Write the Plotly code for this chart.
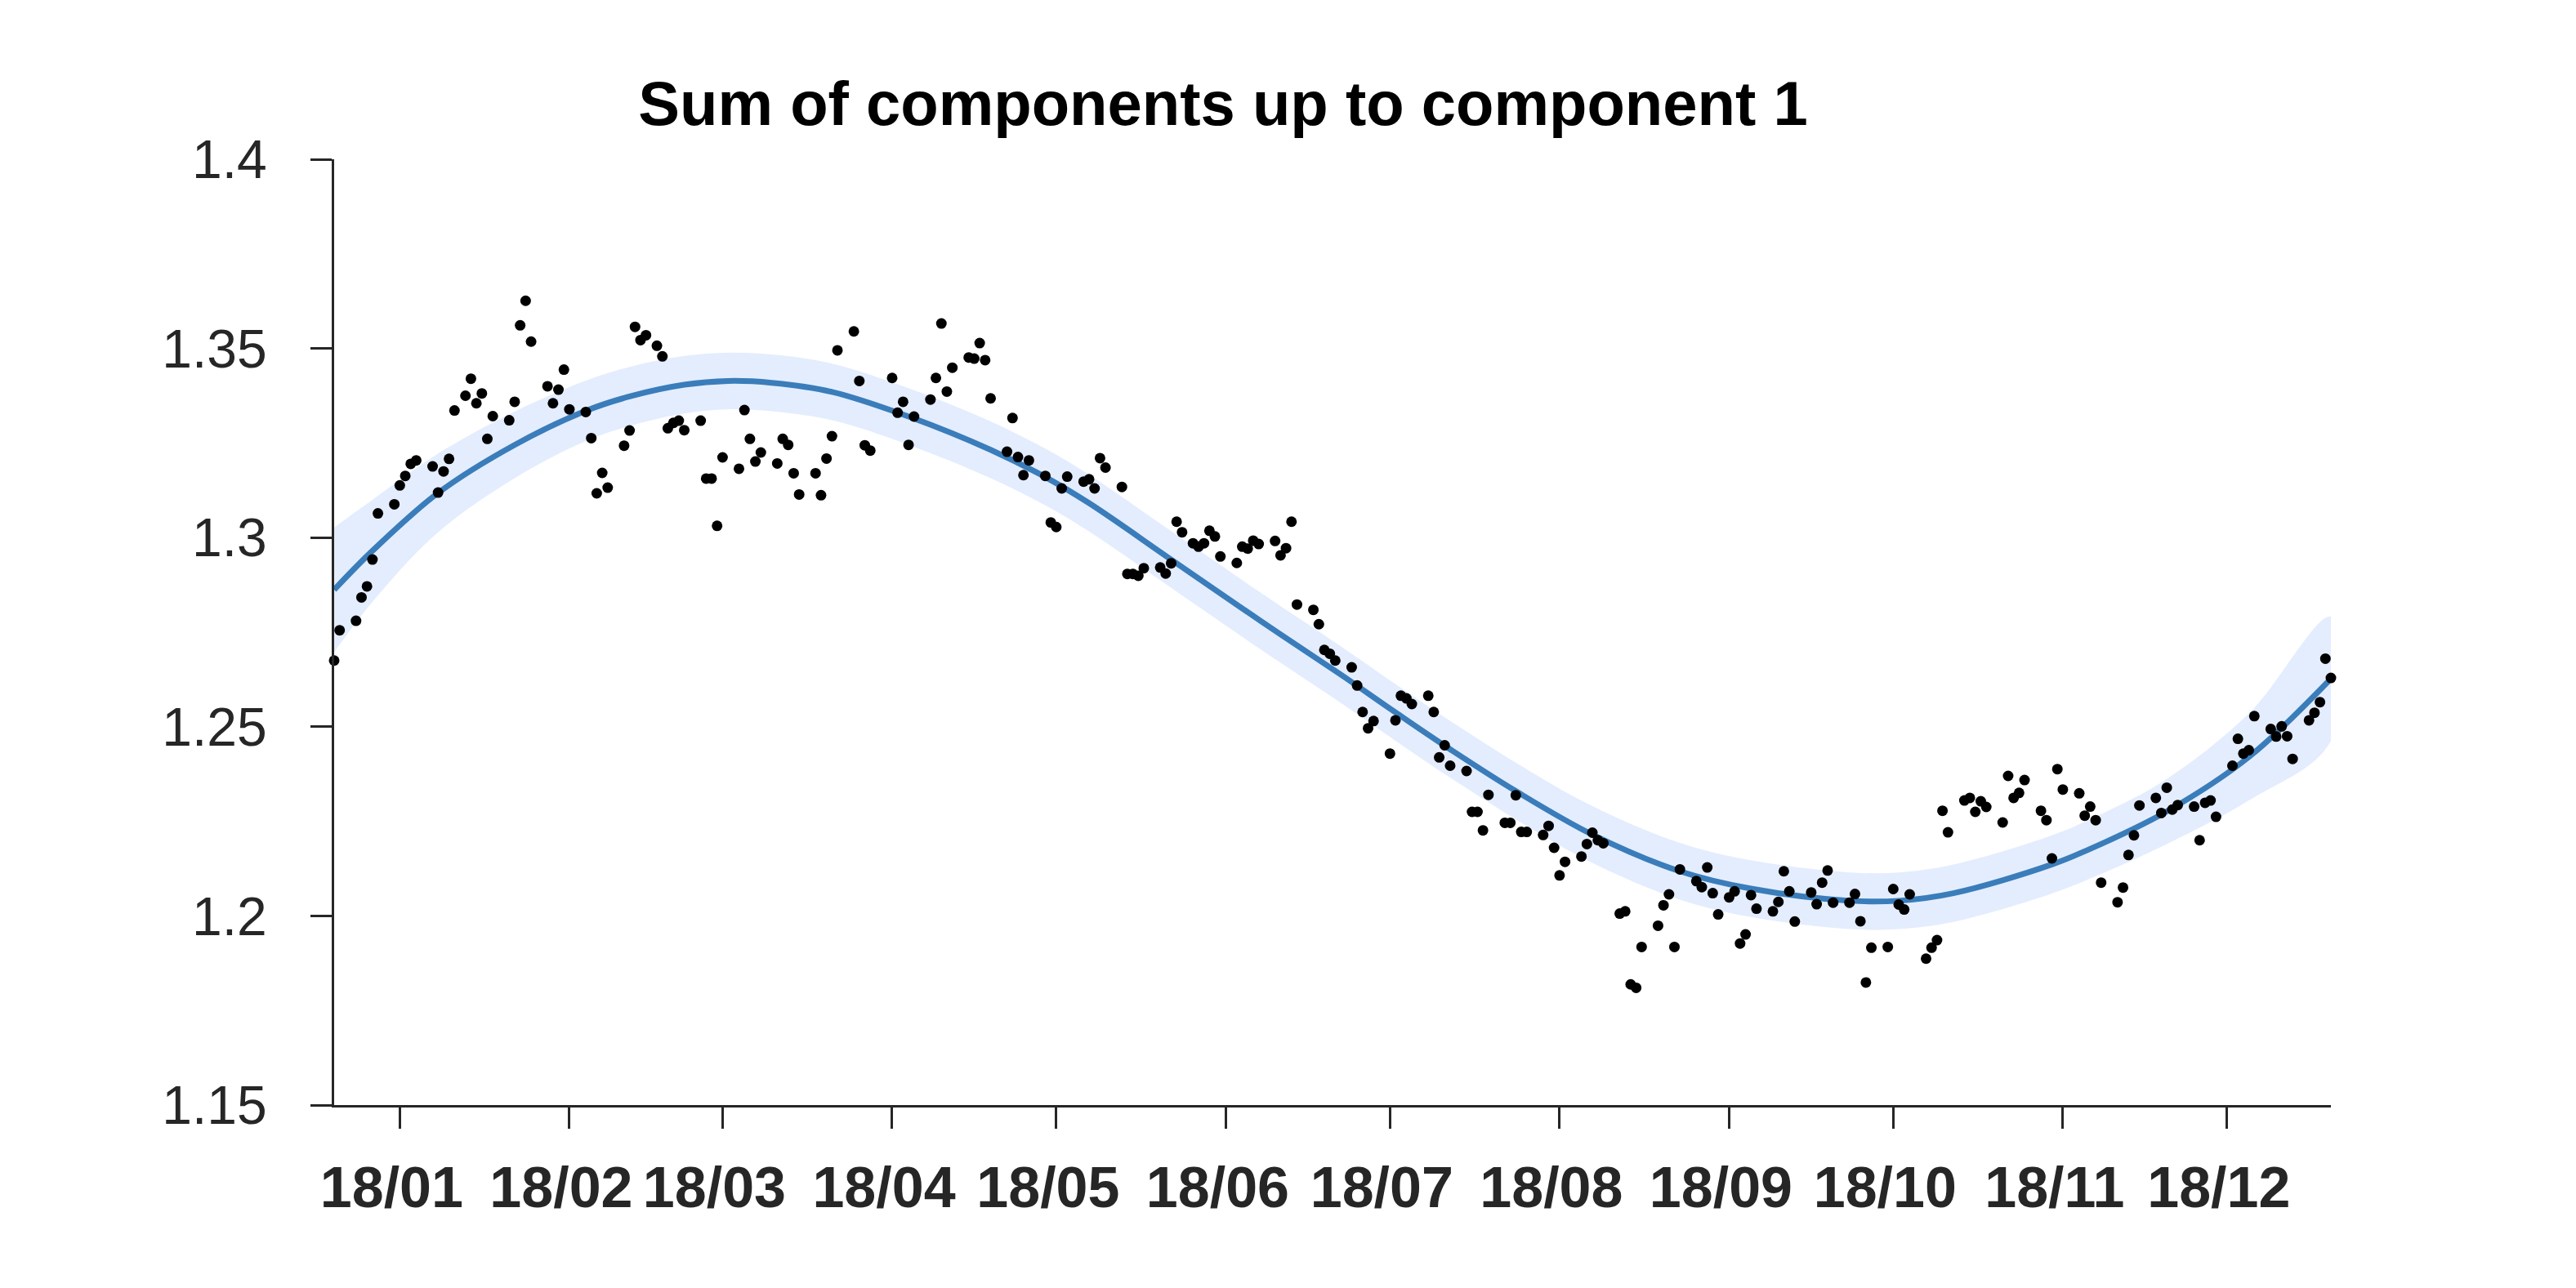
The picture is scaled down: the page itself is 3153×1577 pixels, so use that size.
import pandas as pd
import plotly.graph_objects as go

# ---------------- data ----------------
start_date = "2017-12-20"

obs_day = [
    0, 1, 4, 5, 6, 7, 8, 11, 12, 13, 14, 15, 18, 19, 20, 21, 22, 24, 25, 26, 27, 28, 29,
    32, 33, 34, 35, 36, 39, 40, 41, 42, 43, 46, 47, 48, 49, 50, 53, 54, 55, 56, 57,
    59, 60, 61, 62, 63, 64, 67, 68, 69, 70, 71, 74, 75, 76, 77, 78, 81, 82, 83, 84, 85,
    88, 89, 90, 91, 92, 95, 96, 97, 98, 102, 103, 104, 105, 106, 109, 110, 111, 112, 113,
    116, 117, 118, 119, 120, 123, 124, 125, 126, 127, 130, 131, 132, 133, 134,
    137, 138, 139, 140, 141, 144, 145, 146, 147, 148, 151, 152, 153, 154, 155,
    157, 158, 159, 160, 161, 162, 165, 166, 167, 168, 169, 172, 173, 174, 175, 176,
    179, 180, 181, 182, 183, 186, 187, 188, 189, 190, 193, 194, 195, 196, 197,
    200, 201, 202, 203, 204, 207, 208, 209, 210, 211, 214, 215, 216, 217, 218,
    221, 222, 223, 224, 225, 228, 229, 230, 231, 232, 235, 236, 237, 238, 239,
    242, 243, 244, 245, 246, 249, 250, 251, 252, 253, 255, 256, 257, 258, 259, 260,
    263, 264, 265, 266, 267, 270, 271, 272, 273, 274, 277, 278, 279, 280, 281,
    284, 285, 286, 287, 288, 291, 292, 293, 294, 295, 298, 299, 300, 301, 302,
    305, 306, 307, 308, 309, 312, 313, 314, 315, 316, 319, 320, 321, 322, 323,
    326, 327, 328, 329, 330, 333, 334, 335, 336, 337, 340, 341, 342, 343, 344,
    347, 348, 349, 350, 351, 354, 355, 356, 357, 358, 361, 362, 363, 364, 365,
]

obs_value = [
    1.2675, 1.2755, 1.2780, 1.2842, 1.2871, 1.2942, 1.3064, 1.3088, 1.3138, 1.3163, 1.3195, 1.3204,
    1.3188, 1.3119, 1.3175, 1.3208, 1.3336, 1.3375, 1.3420, 1.3355, 1.3381, 1.3261, 1.3321,
    1.3310, 1.3359, 1.3561, 1.3626, 1.3518, 1.3400, 1.3355, 1.3391, 1.3444, 1.3339,
    1.3332, 1.3263, 1.3117, 1.3171, 1.3132, 1.3243, 1.3283, 1.3557, 1.3522, 1.3535,
    1.3507, 1.3479, 1.3289, 1.3303, 1.3309, 1.3284, 1.3309, 1.3156, 1.3156, 1.3031, 1.3212,
    1.3182, 1.3337, 1.3261, 1.3201, 1.3225, 1.3196, 1.3261, 1.3245, 1.3170, 1.3114,
    1.3170, 1.3112, 1.3209, 1.3268, 1.3495, 1.3545, 1.3414, 1.3244, 1.3230,
    1.3422, 1.3330, 1.3359, 1.3245, 1.3320, 1.3365, 1.3422, 1.3566, 1.3386, 1.3449,
    1.3476, 1.3473, 1.3514, 1.3469, 1.3368, 1.3227, 1.3316, 1.3213, 1.3165, 1.3204,
    1.3163, 1.3040, 1.3028, 1.3130, 1.3161,
    1.3148, 1.3154, 1.3130, 1.3210, 1.3185, 1.3134, 1.2904, 1.2904, 1.2899, 1.2919,
    1.2921, 1.2905, 1.2932, 1.3042, 1.3014,
    1.2985, 1.2976, 1.2985, 1.3018, 1.3003, 1.2950, 1.2933, 1.2976, 1.2971, 1.2992, 1.2983,
    1.2991, 1.2953, 1.2972, 1.3042, 1.2823,
    1.2809, 1.2771, 1.2703, 1.2693, 1.2675, 1.2657, 1.2609, 1.2539, 1.2496, 1.2515,
    1.2429, 1.2517, 1.2582, 1.2575, 1.2560,
    1.2582, 1.2539, 1.2419, 1.2451, 1.2397, 1.2383, 1.2275, 1.2275, 1.2226, 1.2320,
    1.2246, 1.2246, 1.2319, 1.2222, 1.2222,
    1.2214, 1.2238, 1.2180, 1.2107, 1.2143, 1.2157, 1.2190, 1.2220, 1.2200, 1.2192,
    1.2006, 1.2012, 1.1819, 1.1810, 1.1918,
    1.1974, 1.2028, 1.2057, 1.1918, 1.2123, 1.2092, 1.2076, 1.2128, 1.2060, 1.2004,
    1.2049, 1.2065, 1.1927, 1.1951, 1.2055, 1.2019,
    1.2012, 1.2037, 1.2118, 1.2065, 1.1985, 1.2062, 1.2031, 1.2088, 1.2120, 1.2035,
    1.2035, 1.2058, 1.1986, 1.1824, 1.1916,
    1.1918, 1.2071, 1.2030, 1.2017, 1.2057, 1.1887, 1.1916, 1.1936, 1.2278, 1.2221,
    1.2305, 1.2312, 1.2275, 1.2303, 1.2288,
    1.2247, 1.2370, 1.2312, 1.2325, 1.2359, 1.2278, 1.2253, 1.2152, 1.2388, 1.2334,
    1.2324, 1.2265, 1.2289, 1.2253, 1.2088,
    1.2036, 1.2075, 1.2161, 1.2213, 1.2292, 1.2312, 1.2272, 1.2339, 1.2281, 1.2293,
    1.2289, 1.2200, 1.2299, 1.2305, 1.2262,
    1.2397, 1.2468, 1.2429, 1.2438, 1.2528, 1.2494, 1.2474, 1.2501, 1.2475, 1.2415,
    1.2517, 1.2537, 1.2565, 1.2680, 1.2629,
]

fit_day = [0, 7, 19, 33, 46, 54, 64, 72, 80, 91, 105, 120, 130, 138, 153, 169, 184, 194,
           203, 216, 230, 246, 259, 277, 286, 296, 314, 323, 335, 350, 365]
fit_value = [1.2862, 1.2965, 1.3118, 1.3245, 1.3335, 1.3373, 1.3404, 1.3414, 1.3409, 1.3385,
             1.3320, 1.3232, 1.3160, 1.3091, 1.2942, 1.2783, 1.2638, 1.2538, 1.2450, 1.2330,
             1.2215, 1.2118, 1.2072, 1.2040, 1.2040, 1.2060, 1.2136, 1.2190, 1.2276, 1.2420, 1.2627]
fit_upper = [1.3027, 1.3100, 1.3222, 1.3333, 1.3415, 1.3451, 1.3480, 1.3489, 1.3484, 1.3460,
             1.3395, 1.3307, 1.3235, 1.3166, 1.3017, 1.2858, 1.2713, 1.2613, 1.2525, 1.2405,
             1.2290, 1.2193, 1.2147, 1.2115, 1.2115, 1.2136, 1.2213, 1.2269, 1.2362, 1.2535, 1.2791]
fit_lower = [1.2697, 1.2830, 1.3014, 1.3157, 1.3255, 1.3295, 1.3328, 1.3339, 1.3334, 1.3310,
             1.3245, 1.3157, 1.3085, 1.3016, 1.2867, 1.2708, 1.2563, 1.2463, 1.2375, 1.2255,
             1.2140, 1.2043, 1.1997, 1.1965, 1.1965, 1.1984, 1.2059, 1.2111, 1.2190, 1.2305, 1.2463]

x_tick_dates = ["2018-01-01", "2018-02-01", "2018-03-01", "2018-04-01", "2018-05-01", "2018-06-01",
                "2018-07-01", "2018-08-01", "2018-09-01", "2018-10-01", "2018-11-01", "2018-12-01"]
x_tick_labels = ["18/01", "18/02", "18/03", "18/04", "18/05", "18/06",
                 "18/07", "18/08", "18/09", "18/10", "18/11", "18/12"]
y_tick_values = [1.15, 1.2, 1.25, 1.3, 1.35, 1.4]
y_tick_labels = ["1.15", "1.2", "1.25", "1.3", "1.35", "1.4"]
title_text = "Sum of components up to component 1"

# ---------------- build ----------------
t0 = pd.Timestamp(start_date)
obs_x = [t0 + pd.Timedelta(days=d) for d in obs_day]
fit_x = [t0 + pd.Timedelta(days=d) for d in fit_day]

FONT = "Liberation Sans, Arial, Helvetica, sans-serif"
AXC = "#262626"

fig = go.Figure()
fig.add_trace(go.Scatter(x=fit_x + fit_x[::-1], y=fit_upper + fit_lower[::-1],
                         fill="toself", fillcolor="#e4edfe", mode="lines",
                         line=dict(width=0, shape="spline", smoothing=1.0),
                         hoverinfo="skip"))
fig.add_trace(go.Scatter(x=fit_x, y=fit_value, mode="lines",
                         line=dict(color="#3a7dba", width=7, shape="spline", smoothing=1.0)))
fig.add_trace(go.Scatter(x=obs_x, y=obs_value, mode="markers",
                         marker=dict(color="black", size=13, line=dict(width=0)),
                         cliponaxis=False))

fig.update_layout(
    width=3153, height=1577,
    margin=dict(l=409, r=300, t=195, b=224),
    plot_bgcolor="white", paper_bgcolor="white",
    showlegend=False,
    title=dict(text=title_text, x=1497 / 3153, xref="container", xanchor="center",
               y=1 - 126 / 1577, yref="container", yanchor="middle",
               font=dict(family=FONT, size=76, color="black", weight="bold")),
)
fig.update_xaxes(type="date", range=["2017-12-20", "2018-12-20"],
                 tickmode="array", tickvals=x_tick_dates, ticktext=x_tick_labels,
                 ticks="outside", ticklen=26, tickwidth=3, tickcolor=AXC,
                 showline=True, linecolor=AXC, linewidth=3,
                 showgrid=False, zeroline=False,
                 ticklabelstandoff=12, ticklabelshift=-10,
                 tickfont=dict(family=FONT, size=70, color=AXC, weight="bold"))
fig.update_yaxes(range=[1.15, 1.4], tickmode="array", tickvals=y_tick_values, ticktext=y_tick_labels,
                 ticks="outside", ticklen=26, tickwidth=3, tickcolor=AXC,
                 showline=True, linecolor=AXC, linewidth=3,
                 showgrid=False, zeroline=False,
                 ticklabelstandoff=40,
                 tickfont=dict(family=FONT, size=66, color=AXC))

fig.write_html("out.html")
